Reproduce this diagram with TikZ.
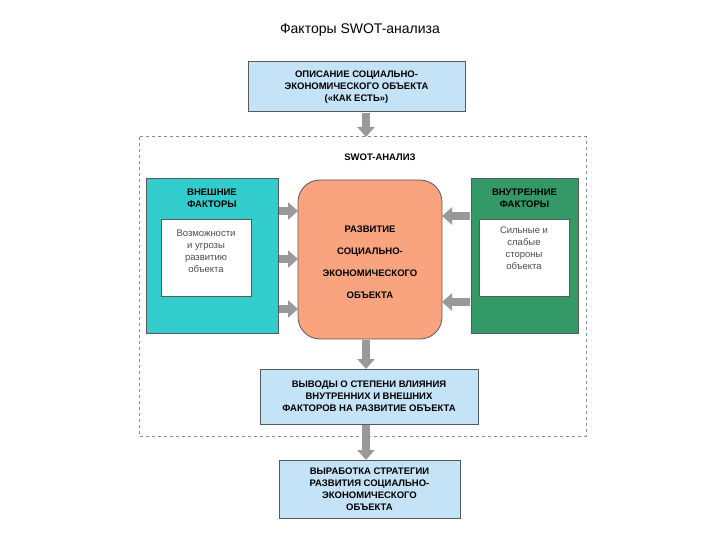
\documentclass[tikz,border=0pt]{standalone}
\usepackage{fontspec}
\setmainfont{Liberation Sans}
\usetikzlibrary{arrows.meta}
\definecolor{lb}{HTML}{C5E3F6}
\definecolor{teal1}{HTML}{33CCCC}
\definecolor{grn}{HTML}{339966}
\definecolor{org}{HTML}{F9A47E}
\definecolor{arr}{HTML}{999999}
\begin{document}
\begin{tikzpicture}[x=1pt,y=-1pt,
  bx/.style={draw=gray!70!black,line width=1pt},
  bt/.style={font=\bfseries\fontsize{9.5}{12}\selectfont,align=center},
  st/.style={font=\fontsize{9.5}{12}\selectfont,align=center,color=black!70},
  ga/.style={draw=arr,line width=8pt,-{Triangle[width=17pt,length=10pt]}}]
\useasboundingbox (0,0) rectangle (720,540);
\node (title) at (360,30) {\fontsize{14}{16}\selectfont Факторы SWOT-анализа};
\draw[bx,fill=lb] (248,62) rectangle (465,112);
\node[bt] (top) at (356.5,87) {ОПИСАНИЕ СОЦИАЛЬНО-\\ЭКОНОМИЧЕСКОГО ОБЪЕКТА\\(«КАК ЕСТЬ»)};
\draw[gray!90,dashed,line width=1pt] (139,137) rectangle (586,436);
\node[bt] (swot) at (380,157) {SWOT-АНАЛИЗ};
\draw[bx,fill=teal1] (146,179) rectangle (278,333);
\node[bt] (ext) at (212,198) {ВНЕШНИЕ\\ФАКТОРЫ};
\draw[bx,fill=white] (161,220) rectangle (251,296);
\node[st] (exti) at (206,251) {Возможности\\и угрозы\\развитию\\объекта};
\draw[bx,fill=grn] (471,179) rectangle (578,333);
\node[bt] (int) at (524.5,198) {ВНУТРЕННИЕ\\ФАКТОРЫ};
\draw[bx,fill=white] (479,220) rectangle (569,296);
\node[st] (inti) at (524,248) {Сильные и\\слабые\\стороны\\объекта};
\draw[draw=gray!70!black,fill=org,rounded corners=22pt,line width=0.8pt] (298,180) rectangle (442,339);
\node[bt,font=\bfseries\fontsize{9.5}{22}\selectfont] (ctr) at (370,262) {РАЗВИТИЕ\\СОЦИАЛЬНО-\\ЭКОНОМИЧЕСКОГО\\ОБЪЕКТА};
\draw[bx,fill=lb] (260,369) rectangle (478,424);
\node[bt] (res) at (369,396) {ВЫВОДЫ О СТЕПЕНИ ВЛИЯНИЯ\\ВНУТРЕННИХ И ВНЕШНИХ\\ФАКТОРОВ НА РАЗВИТИЕ ОБЪЕКТА};
\draw[bx,fill=lb] (279,460) rectangle (460,518);
\node[bt] (str) at (369.5,489) {ВЫРАБОТКА СТРАТЕГИИ\\РАЗВИТИЯ СОЦИАЛЬНО-\\ЭКОНОМИЧЕСКОГО\\ОБЪЕКТА};
\coordinate (a1) at (366,113); \coordinate (a2) at (366,137);
\draw[ga] (a1) -- (a2);
\foreach \y in {211,259,309} \draw[ga] (279,\y) -- (298,\y);
\foreach \y in {216,302} \draw[ga] (470,\y) -- (442,\y);
\draw[ga] (366,340) -- (366,369);
\draw[ga] (366,425) -- (366,460);
\end{tikzpicture}
\end{document}
